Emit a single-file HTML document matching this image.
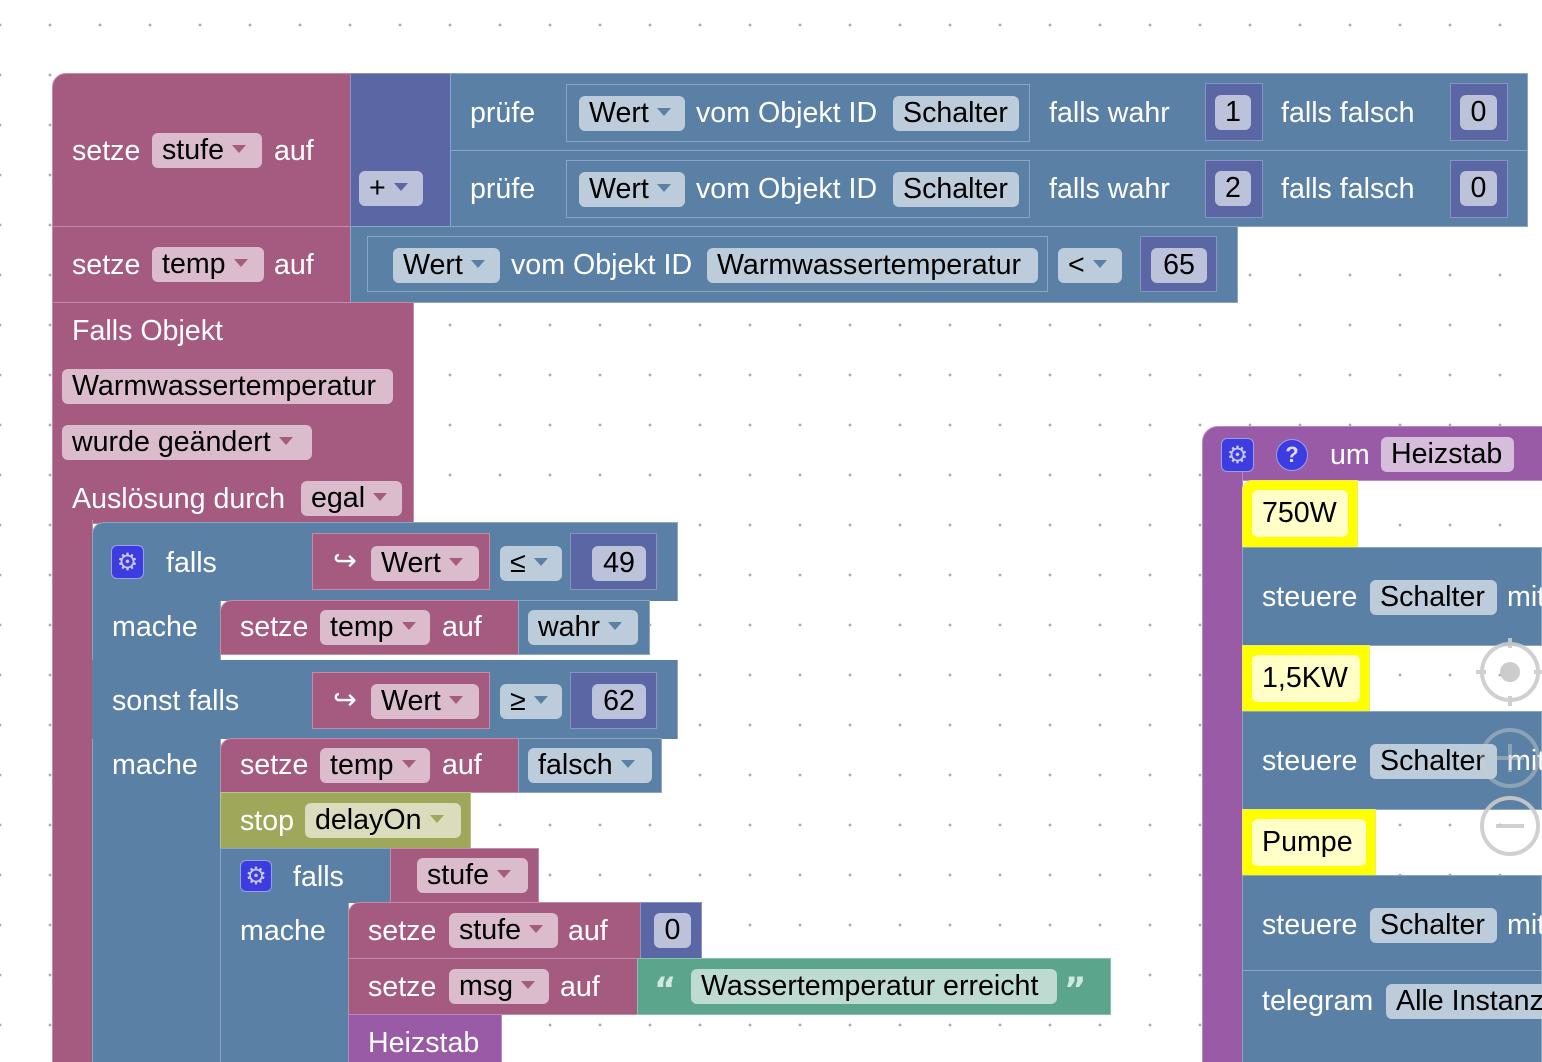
<!DOCTYPE html>
<html style="overflow:hidden;width:1542px;height:1062px"><head><meta charset="utf-8"><style>
*{margin:0;padding:0}
body{width:1542px;height:1062px;overflow:hidden;position:relative;background:#fff;font-family:"Liberation Sans",sans-serif;font-size:28.6px;
background-image:radial-gradient(circle,#aaa 1.2px,transparent 1.6px);background-size:50px 50px;background-position:-25px 0px}
div{position:absolute;box-sizing:border-box}
.pk{background:#a55b80;border:1px solid #c48ba8}
.bl{background:#5b80a5;border:1px solid #8ba6c2}
.in{background:#5b67a5;border:1px solid #8b93c2}
.pu{background:#995ba5;border:1px solid #b88ac2}
.ol{background:#9fa75b;border:1px solid #bcc28a}
.gr{background:#5ba58c;border:1px solid #8ac2ae}
.ye{background:#ffff00;border:1px solid #eeee66}
.l{color:#fff;line-height:34px;white-space:nowrap}
.f{height:35px;line-height:35px;border-radius:6px;padding-left:10px;color:#000;white-space:nowrap}
.c{padding-left:0;text-align:center}
.fp{background:#dbbccc}.fb{background:#bdccdb}.fi{background:#bdc2db}.fu{background:#d6bddb}.fo{background:#dbdbbd}.fg{background:#bddbd1}.fy{background:#ffffc7}
.a{display:inline-block;width:0;height:0;border-left:7px solid transparent;border-right:7px solid transparent;border-top:8px solid;margin-left:8px;vertical-align:middle;position:relative;top:-2px}
.fp .a{border-top-color:#a55b80}.fb .a{border-top-color:#5b80a5}.fi .a{border-top-color:#5b67a5}.fo .a{border-top-color:#9fa75b}
.g{width:33px;height:34px;background:#3c3ce0;border:1px solid #9aa0e8;border-radius:6px;color:#c8c8f0;font-family:"DejaVu Sans",sans-serif;font-size:24px;line-height:32px;text-align:center}
.y{left:1242px;width:300px}
.q{color:#d0e8e0;font-weight:bold;font-family:"DejaVu Sans",sans-serif;font-size:34px;line-height:40px}
</style></head><body>

<!-- setze stufe -->
<div class="pk" style="left:52px;top:73px;width:300px;height:154px;border-top-left-radius:14px"></div>
<div class="l" style="left:72px;top:134px">setze</div>
<div class="f fp" style="left:152px;top:133px;width:110px">stufe<span class="a"></span></div>
<div class="l" style="left:274px;top:134px">auf</div>
<div class="in" style="left:350px;top:73px;width:101px;height:154px"></div>
<div class="f fi" style="left:359px;top:171px;width:64px">+<span class="a"></span></div>

<div class="bl" style="left:450px;top:73px;width:1078px;height:78px"></div>
<div class="bl" style="left:450px;top:150px;width:1078px;height:77px"></div>
<div class="l" style="left:470px;top:96px">prüfe</div>
<div class="bl" style="left:566px;top:84px;width:464px;height:58px"></div>
<div class="f fb" style="left:579px;top:96px;width:106px">Wert<span class="a"></span></div>
<div class="l" style="left:696px;top:96px">vom Objekt ID</div>
<div class="f fb" style="left:893px;top:96px;width:126px">Schalter</div>
<div class="l" style="left:1049px;top:96px">falls wahr</div>
<div class="in" style="left:1205px;top:83px;width:58px;height:58px"></div>
<div class="f fi c" style="left:1215px;top:95px;width:36px">1</div>
<div class="l" style="left:1281px;top:96px">falls falsch</div>
<div class="in" style="left:1450px;top:83px;width:58px;height:58px"></div>
<div class="f fi c" style="left:1460px;top:95px;width:37px">0</div>
<div class="l" style="left:470px;top:172px">prüfe</div>
<div class="bl" style="left:566px;top:160px;width:464px;height:58px"></div>
<div class="f fb" style="left:579px;top:172px;width:106px">Wert<span class="a"></span></div>
<div class="l" style="left:696px;top:172px">vom Objekt ID</div>
<div class="f fb" style="left:893px;top:172px;width:126px">Schalter</div>
<div class="l" style="left:1049px;top:172px">falls wahr</div>
<div class="in" style="left:1205px;top:160px;width:58px;height:58px"></div>
<div class="f fi c" style="left:1215px;top:171px;width:36px">2</div>
<div class="l" style="left:1281px;top:172px">falls falsch</div>
<div class="in" style="left:1450px;top:160px;width:58px;height:58px"></div>
<div class="f fi c" style="left:1460px;top:171px;width:37px">0</div>

<!-- setze temp -->
<div class="pk" style="left:52px;top:226px;width:300px;height:77px"></div>
<div class="l" style="left:72px;top:248px">setze</div>
<div class="f fp" style="left:152px;top:247px;width:112px">temp<span class="a"></span></div>
<div class="l" style="left:274px;top:248px">auf</div>
<div class="bl" style="left:350px;top:226px;width:888px;height:77px"></div>
<div class="bl" style="left:367px;top:236px;width:681px;height:56px"></div>
<div class="f fb" style="left:393px;top:248px;width:107px">Wert<span class="a"></span></div>
<div class="l" style="left:511px;top:248px">vom Objekt ID</div>
<div class="f fb" style="left:707px;top:248px;width:331px">Warmwassertemperatur</div>
<div class="f fb" style="left:1058px;top:248px;width:64px">&lt;<span class="a"></span></div>
<div class="in" style="left:1140px;top:236px;width:77px;height:56px"></div>
<div class="f fi c" style="left:1151px;top:248px;width:56px">65</div>

<!-- Falls Objekt -->
<div class="pk" style="left:52px;top:302px;width:362px;height:222px"></div>
<div class="pk" style="left:52px;top:520px;width:41px;height:542px;border-top:none;border-bottom:none"></div>
<div class="l" style="left:72px;top:314px">Falls Objekt</div>
<div class="f fp" style="left:62px;top:369px;width:331px">Warmwassertemperatur</div>
<div class="f fp" style="left:62px;top:425px;width:250px">wurde geändert<span class="a"></span></div>
<div class="l" style="left:72px;top:482px">Auslösung durch</div>
<div class="f fp" style="left:301px;top:481px;width:101px">egal<span class="a"></span></div>

<!-- outer if -->
<div class="bl" style="left:92px;top:522px;width:129px;height:540px;border-top-left-radius:12px;border-bottom:none"></div>
<div class="bl" style="left:92px;top:522px;width:586px;height:79px;border-top-left-radius:12px;border-bottom:none"></div>
<div class="bl" style="left:92px;top:660px;width:586px;height:79px;border-top:none;border-bottom:none;border-left:none"></div>
<div class="bl" style="left:93px;top:590px;width:127px;height:472px;border:none"></div>
<div class="g" style="left:111px;top:545px">⚙</div>
<div class="l" style="left:166px;top:546px">falls</div>
<div class="pk" style="left:312px;top:533px;width:178px;height:57px"></div>
<div class="l" style="left:333px;top:544px">↪</div>
<div class="f fp" style="left:371px;top:546px;width:108px">Wert<span class="a"></span></div>
<div class="f fb" style="left:500px;top:546px;width:62px">≤<span class="a"></span></div>
<div class="in" style="left:570px;top:533px;width:87px;height:57px"></div>
<div class="f fi c" style="left:592px;top:546px;width:54px">49</div>

<div class="l" style="left:112px;top:610px">mache</div>
<div class="pk" style="left:220px;top:600px;width:300px;height:55px;border-top-left-radius:12px"></div>
<div class="l" style="left:240px;top:610px">setze</div>
<div class="f fp" style="left:320px;top:610px;width:110px">temp<span class="a"></span></div>
<div class="l" style="left:442px;top:610px">auf</div>
<div class="bl" style="left:518px;top:600px;width:132px;height:55px"></div>
<div class="f fb" style="left:528px;top:610px;width:110px">wahr<span class="a"></span></div>

<div class="l" style="left:112px;top:684px">sonst falls</div>
<div class="pk" style="left:312px;top:672px;width:178px;height:57px"></div>
<div class="l" style="left:333px;top:683px">↪</div>
<div class="f fp" style="left:371px;top:684px;width:108px">Wert<span class="a"></span></div>
<div class="f fb" style="left:500px;top:684px;width:62px">≥<span class="a"></span></div>
<div class="in" style="left:570px;top:672px;width:87px;height:57px"></div>
<div class="f fi c" style="left:592px;top:684px;width:54px">62</div>

<div class="l" style="left:112px;top:748px">mache</div>
<div class="pk" style="left:220px;top:738px;width:300px;height:55px;border-top-left-radius:12px"></div>
<div class="l" style="left:240px;top:748px">setze</div>
<div class="f fp" style="left:320px;top:748px;width:110px">temp<span class="a"></span></div>
<div class="l" style="left:442px;top:748px">auf</div>
<div class="bl" style="left:518px;top:738px;width:144px;height:55px"></div>
<div class="f fb" style="left:528px;top:748px;width:124px">falsch<span class="a"></span></div>

<div class="ol" style="left:220px;top:792px;width:251px;height:57px"></div>
<div class="l" style="left:240px;top:804px">stop</div>
<div class="f fo" style="left:305px;top:803px;width:156px">delayOn<span class="a"></span></div>

<!-- inner if -->
<div class="bl" style="left:220px;top:848px;width:129px;height:214px;border-bottom:none"></div>
<div class="bl" style="left:220px;top:848px;width:172px;height:55px;border-bottom:none"></div>
<div class="g" style="left:240px;top:860px;width:32px;height:32px;line-height:30px">⚙</div>
<div class="l" style="left:293px;top:860px">falls</div>
<div class="pk" style="left:390px;top:848px;width:149px;height:55px"></div>
<div class="f fp" style="left:417px;top:858px;width:111px">stufe<span class="a"></span></div>
<div class="l" style="left:240px;top:914px">mache</div>

<div class="pk" style="left:348px;top:902px;width:294px;height:57px;border-top-left-radius:12px"></div>
<div class="l" style="left:368px;top:914px">setze</div>
<div class="f fp" style="left:449px;top:913px;width:109px">stufe<span class="a"></span></div>
<div class="l" style="left:568px;top:914px">auf</div>
<div class="in" style="left:640px;top:902px;width:62px;height:57px"></div>
<div class="f fi c" style="left:654px;top:913px;width:37px">0</div>

<div class="pk" style="left:348px;top:958px;width:291px;height:57px"></div>
<div class="l" style="left:368px;top:970px">setze</div>
<div class="f fp" style="left:449px;top:969px;width:100px">msg<span class="a"></span></div>
<div class="l" style="left:560px;top:970px">auf</div>
<div class="gr" style="left:637px;top:958px;width:474px;height:57px"></div>
<div class="q" style="left:654px;top:970px">“</div>
<div class="f fg" style="left:691px;top:969px;width:366px">Wassertemperatur erreicht</div>
<div class="q" style="left:1064px;top:970px">”</div>
<div class="pu" style="left:348px;top:1014px;width:154px;height:48px;border-bottom:none"></div>
<div class="l" style="left:368px;top:1026px">Heizstab</div>

<!-- right function -->
<div class="pu" style="left:1202px;top:426px;width:360px;height:55px;border-top-left-radius:16px"></div>
<div class="pu" style="left:1202px;top:470px;width:41px;height:592px;border-top:none;border-bottom:none"></div>
<div class="g" style="left:1221px;top:438px">⚙</div>
<div style="left:1276px;top:439px;width:32px;height:32px;border-radius:50%;background:#3c3ce0;border:1px solid #9aa0e8;color:#dde;font-weight:bold;font-size:22px;line-height:30px;text-align:center">?</div>
<div class="l" style="left:1330px;top:438px">um</div>
<div class="f fu" style="left:1381px;top:437px;width:133px">Heizstab</div>

<div class="ye" style="left:1242px;top:480px;width:116px;height:68px;border-top-left-radius:10px"></div>
<div class="f fy" style="left:1252px;top:490px;width:96px;height:47px;line-height:47px">750W</div>
<div class="bl y" style="top:547px;height:99px"></div>
<div class="l" style="left:1262px;top:580px">steuere</div>
<div class="f fb" style="left:1370px;top:580px;width:127px">Schalter</div>
<div class="l" style="left:1507px;top:580px">mit</div>

<div class="ye" style="left:1242px;top:645px;width:128px;height:67px"></div>
<div class="f fy" style="left:1252px;top:655px;width:108px;height:47px;line-height:47px">1,5KW</div>
<div class="bl y" style="top:711px;height:99px"></div>
<div class="l" style="left:1262px;top:744px">steuere</div>
<div class="f fb" style="left:1370px;top:744px;width:127px">Schalter</div>
<div class="l" style="left:1507px;top:744px">mit</div>

<div class="ye" style="left:1242px;top:809px;width:134px;height:67px"></div>
<div class="f fy" style="left:1252px;top:819px;width:114px;height:47px;line-height:47px">Pumpe</div>
<div class="bl y" style="top:875px;height:96px"></div>
<div class="l" style="left:1262px;top:908px">steuere</div>
<div class="f fb" style="left:1370px;top:908px;width:127px">Schalter</div>
<div class="l" style="left:1507px;top:908px">mit</div>

<div class="bl y" style="top:970px;height:92px;border-bottom:none"></div>
<div class="l" style="left:1262px;top:984px">telegram</div>
<div class="f fb" style="left:1386px;top:984px;width:170px">Alle Instanzen</div>

<svg style="position:absolute;left:1470px;top:630px" width="72" height="240" viewBox="0 0 72 240">
<g fill="none" stroke="#ccc" stroke-width="4" opacity="0.9">
<circle cx="40" cy="42" r="28"/><line x1="40" y1="8" x2="40" y2="18"/><line x1="40" y1="66" x2="40" y2="76"/><line x1="6" y1="42" x2="16" y2="42"/><line x1="64" y1="42" x2="72" y2="42"/>
<circle cx="40" cy="128" r="28" opacity="0.5"/><line x1="26" y1="128" x2="54" y2="128" opacity="0.5"/><line x1="40" y1="114" x2="40" y2="142" opacity="0.5"/>
<circle cx="40" cy="196" r="28"/><line x1="26" y1="196" x2="54" y2="196"/>
</g><circle cx="40" cy="42" r="10" fill="#ccc"/></svg>
</body></html>
